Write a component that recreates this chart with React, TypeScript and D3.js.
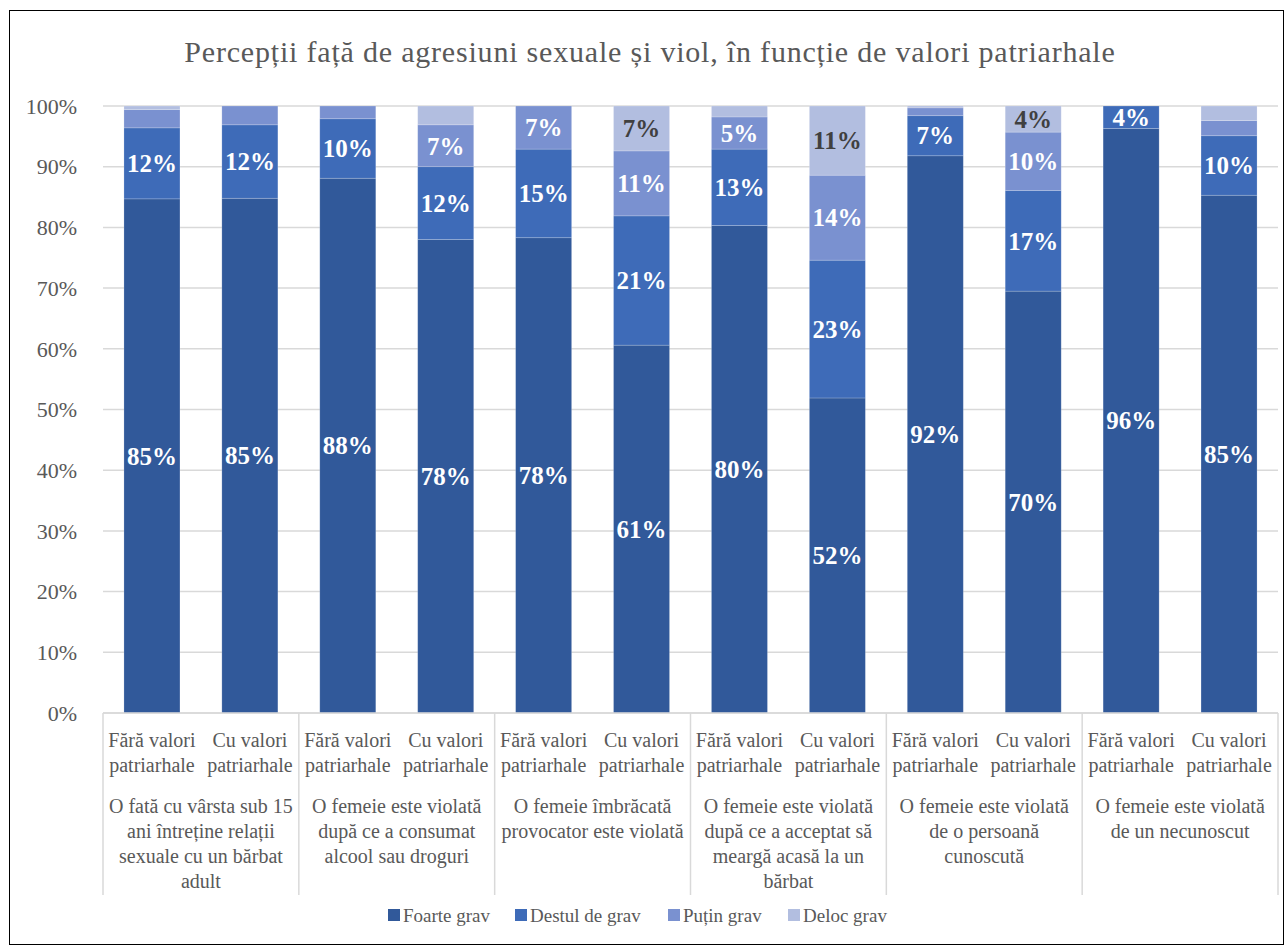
import React from "react";
import * as d3 from "d3";

const TITLE = "Percepții față de agresiuni sexuale și viol, în funcție de valori patriarhale";

const groupLabels: string[][] = [
  ["O fată cu vârsta sub 15", "ani întreține relații", "sexuale cu un bărbat", "adult"],
  ["O femeie este violată", "după ce a consumat", "alcool sau droguri"],
  ["O femeie îmbrăcată", "provocator este violată"],
  ["O femeie este violată", "după ce a acceptat să", "meargă acasă la un", "bărbat"],
  ["O femeie este violată", "de o persoană", "cunoscută"],
  ["O femeie este violată", "de un necunoscut"],
];

const subLabels: string[][] = [
  ["Fără valori", "patriarhale"],
  ["Cu valori", "patriarhale"],
];

const seriesNames = ["Foarte grav", "Destul de grav", "Puțin grav", "Deloc grav"];
const seriesColors = ["#31599A", "#3E6BB8", "#7A91D0", "#B2BEE0"];
const labelColors = ["#FFFFFF", "#FFFFFF", "#FFFFFF", "#404040"];

const foarteGrav = [84.7, 84.8, 88.1, 78.0, 78.3, 60.6, 80.3, 51.9, 91.8, 69.5, 96.3, 85.3];
const destulDeGrav = [11.7, 12.1, 9.8, 12.0, 14.6, 21.3, 12.6, 22.7, 6.6, 16.6, 3.7, 9.8];
const putinGrav = [3.0, 3.1, 2.1, 6.9, 7.1, 10.7, 5.3, 14.0, 1.3, 9.6, 0, 2.5];
const delocGrav = [0.6, 0, 0, 3.1, 0, 7.4, 1.8, 11.4, 0.3, 4.3, 0, 2.4];

const yTicks = [0, 10, 20, 30, 40, 50, 60, 70, 80, 90, 100];

const W = 1285;
const H = 946;
const plotLeft = 103;
const plotRight = 1278;
const plotTop = 106;
const plotBottom = 713;
const axisBottom = 895;
const FONT = "'Liberation Serif', 'Times New Roman', serif";

export default function App() {
  const rows = foarteGrav.map((_, i) => ({
    key: String(i),
    s0: foarteGrav[i],
    s1: destulDeGrav[i],
    s2: putinGrav[i],
    s3: delocGrav[i],
  }));
  const keys = ["s0", "s1", "s2", "s3"];
  const stacked = d3.stack<any>().keys(keys)(rows);

  const x = d3
    .scaleBand<string>()
    .domain(rows.map((r) => r.key))
    .range([plotLeft, plotRight])
    .paddingInner(0.428)
    .paddingOuter(0.214);
  const y = d3.scaleLinear().domain([0, 100]).range([plotBottom, plotTop]);

  const nSub = subLabels.length;
  const groupW = (plotRight - plotLeft) / groupLabels.length;
  const boundaries = d3.range(groupLabels.length + 1).map((i) => plotLeft + i * groupW);

  const legendX = [388, 515, 668, 788];

  return (
    <svg
      width={W}
      height={H}
      style={{ position: "absolute", left: 0, top: 0, background: "#fff" }}
      fontFamily={FONT}
    >
      <rect x={0} y={0} width={W} height={H} fill="#fff" />
      <rect x={9.5} y={10.5} width={1274} height={934} fill="none" stroke="#000" strokeWidth={1} />
      <text x={650} y={62} textAnchor="middle" fontSize={30} letterSpacing={0.8} fill="#595959">
        {TITLE}
      </text>

      {yTicks.map((t) => (
        <g key={t}>
          <line x1={plotLeft} x2={plotRight} y1={y(t)} y2={y(t)} stroke="#D9D9D9" strokeWidth={1.5} />
          <text x={77} y={y(t)} dy="0.35em" textAnchor="end" fontSize={22} fill="#595959">
            {t}%
          </text>
        </g>
      ))}

      {stacked.map((layer, si) => (
        <g key={si}>
          {layer.map((d, i) => {
            const h = y(d[0]) - y(d[1]);
            if (h <= 0) return null;
            return (
              <rect
                key={i}
                x={x(String(i))}
                y={y(d[1])}
                width={x.bandwidth()}
                height={h}
                fill={seriesColors[si]}
                stroke="#ffffff"
                strokeOpacity={0.25}
                strokeWidth={0.75}
              />
            );
          })}
        </g>
      ))}

      {stacked.map((layer, si) => (
        <g key={"l" + si}>
          {layer.map((d, i) => {
            const v = d[1] - d[0];
            if (v < 3.5) return null;
            return (
              <text
                key={i}
                x={(x(String(i)) as number) + x.bandwidth() / 2}
                y={y((d[0] + d[1]) / 2)}
                dy="0.35em"
                textAnchor="middle"
                fontSize={25}
                fontWeight="bold"
                fill={labelColors[si]}
              >
                {Math.round(v)}%
              </text>
            );
          })}
        </g>
      ))}

      <line x1={plotLeft} x2={plotRight} y1={plotBottom} y2={plotBottom} stroke="#D9D9D9" strokeWidth={1.5} />
      {boundaries.map((bx, i) => (
        <line key={i} x1={bx} x2={bx} y1={plotBottom} y2={axisBottom} stroke="#D9D9D9" strokeWidth={1.5} />
      ))}

      {rows.map((r, i) => {
        const cx = (x(r.key) as number) + x.bandwidth() / 2;
        const lines = subLabels[i % nSub];
        return (
          <text key={i} textAnchor="middle" fontSize={20} fill="#595959">
            {lines.map((ln, j) => (
              <tspan key={j} x={cx} y={747 + j * 25}>
                {ln}
              </tspan>
            ))}
          </text>
        );
      })}

      {groupLabels.map((lines, gi) => {
        const cx = boundaries[gi] + groupW / 2;
        return (
          <text key={gi} textAnchor="middle" fontSize={20} fill="#595959">
            {lines.map((ln, j) => (
              <tspan key={j} x={cx} y={813 + j * 25}>
                {ln}
              </tspan>
            ))}
          </text>
        );
      })}

      {seriesNames.map((name, i) => (
        <g key={name}>
          <rect x={legendX[i]} y={909} width={12} height={12} fill={seriesColors[i]} />
          <text x={legendX[i] + 15} y={915} dy="0.35em" fontSize={19} fill="#595959">
            {name}
          </text>
        </g>
      ))}
    </svg>
  );
}
